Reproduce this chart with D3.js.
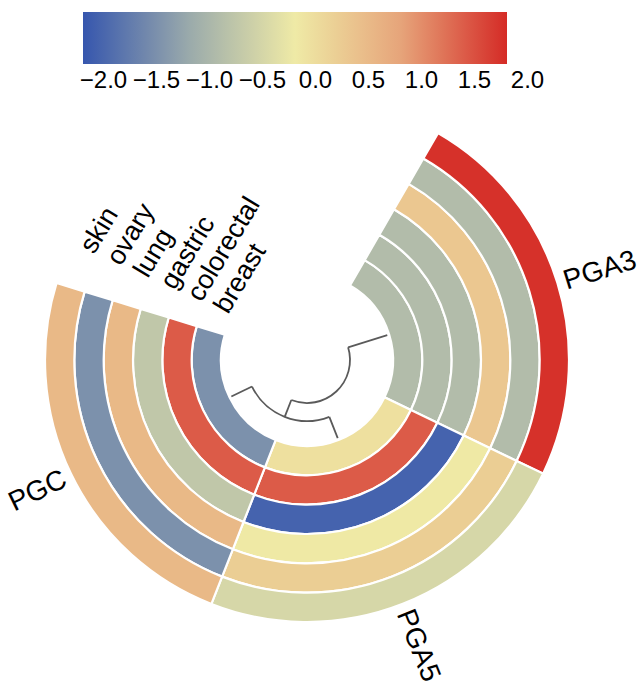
<!DOCTYPE html>
<html>
<head>
<meta charset="utf-8">
<script src="https://cdn.jsdelivr.net/npm/d3@7"></script>
<style>
  body { margin: 0; background: #fff; }
  text { font-family: "Liberation Sans", Arial, Helvetica, sans-serif; fill: #000; }
</style>
</head>
<body>
<svg id="svg" width="642" height="685"></svg>
<script>
// data
var sectors = ["PGA3", "PGA5", "PGC"];
var tracks  = ["breast", "colorectal", "gastric", "lung", "ovary", "skin"];
var PGA3 = [-0.72, -0.72, -0.72, 0.5, -0.72, 1.95];
var PGA5 = [0.15, 1.6, -1.85, 0.02, 0.4, -0.3];
var PGC  = [-1.3, 1.6, -0.55, 0.7, -1.3, 0.7];
var legendTicks = [-2, -1.5, -1, -0.5, 0, 0.5, 1, 1.5, 2];
// dendrogram merge heights
var dendro = {name: "root", height: 5, children: [
    {name: "PGA3", height: 0},
    {name: "n1", height: 2.8, children: [{name: "PGA5", height: 0}, {name: "PGC", height: 0}]}
]};

var values = [PGA3, PGA5, PGC];

var svg = d3.select("#svg"),
    defs = svg.append("defs");

var cx = 307, cy = 360,
    rIn = 86, rOut = 262,
    deg = Math.PI / 180,
    a0 = 30 * deg, a1 = 287.1 * deg;

var color = d3.scaleLinear().domain([-2, -1, 0, 1, 2])
    .range(["#3656ae", "#9aaaab", "#efeaa6", "#e6a47a", "#d52b26"])
    .clamp(true);

var angle = d3.scaleBand().domain(sectors).range([a0, a1]).padding(0);
var radius = d3.scaleBand().domain(tracks).range([rIn, rOut]).padding(0);

var g = svg.append("g").attr("transform", "translate(" + cx + "," + cy + ")");

// cells
var cells = [];
sectors.forEach((s, i) => tracks.forEach((t, j) => cells.push({s: s, t: t, v: values[i][j]})));
var arc = d3.arc()
    .innerRadius(d => radius(d.t))
    .outerRadius(d => radius(d.t) + radius.bandwidth())
    .startAngle(d => angle(d.s))
    .endAngle(d => angle(d.s) + angle.bandwidth());
g.selectAll(".cell").data(cells).enter().append("path")
    .attr("class", "cell")
    .attr("d", arc)
    .attr("fill", d => color(d.v))
    .attr("stroke", "#fff").attr("stroke-width", 2.2);

// track labels at end of last sector
var labRot = -59, labOff = 7 * deg;
g.selectAll(".tlab").data(tracks).enter().append("text")
    .attr("class", "tlab")
    .attr("transform", d => {
        var r = radius(d) + radius.bandwidth() / 2,
            t = a1 + labOff;
        return "translate(" + (r * Math.sin(t)) + "," + (-r * Math.cos(t)) + ") rotate(" + labRot + ")";
    })
    .attr("dx", 10)
    .attr("dominant-baseline", "central")
    .attr("font-size", 27)
    .text(d => d);

// sector labels, radial, readable
var rLab = 269;
g.selectAll(".slab").data(sectors).enter().append("text")
    .attr("class", "slab")
    .each(function(d) {
        var t = angle(d) + angle.bandwidth() / 2, td = t / deg,
            right = td < 180;
        d3.select(this)
            .attr("transform", "translate(" + (rLab * Math.sin(t)) + "," + (-rLab * Math.cos(t)) + ") rotate(" + (right ? td - 90 : td - 270) + ")")
            .attr("text-anchor", right ? "start" : "end");
    })
    .attr("dominant-baseline", "central")
    .attr("font-size", 28)
    .text(d => d);

// dendrogram
var root = d3.hierarchy(dendro);
var hr = d3.scaleLinear().domain([0, 5]).range([84, 43]);
root.eachAfter(n => {
    n.theta = n.children ? d3.mean(n.children, c => c.theta) : angle(n.data.name) + angle.bandwidth() / 2;
});
var dg = g.append("g").attr("fill", "none").attr("stroke", "#5a5a5a").attr("stroke-width", 1.8);
root.descendants().filter(n => n.children).forEach(n => {
    var r = hr(n.data.height),
        ts = n.children.map(c => c.theta),
        p = d3.path();
    p.arc(0, 0, r, d3.min(ts) - Math.PI / 2, d3.max(ts) - Math.PI / 2);
    dg.append("path").attr("d", p.toString());
    n.children.forEach(c => {
        var rc = hr(c.data.height);
        dg.append("line")
            .attr("x1", r * Math.sin(c.theta)).attr("y1", -r * Math.cos(c.theta))
            .attr("x2", rc * Math.sin(c.theta)).attr("y2", -rc * Math.cos(c.theta));
    });
});

// legend
var lx = d3.scaleLinear().domain([-2, 2]).range([83, 507]);
var grad = defs.append("linearGradient").attr("id", "lg");
grad.selectAll("stop").data(d3.range(0, 1.0001, 0.05)).enter().append("stop")
    .attr("offset", d => d)
    .attr("stop-color", d => color(-2 + 4 * d));
svg.append("rect")
    .attr("x", lx(-2)).attr("y", 12)
    .attr("width", lx(2) - lx(-2)).attr("height", 52)
    .attr("fill", "url(#lg)");
var ax = svg.append("g").attr("transform", "translate(20,69)")
    .call(d3.axisBottom(lx).tickValues(legendTicks).tickSize(0).tickPadding(0).tickFormat(d3.format(".1f")));
ax.select(".domain").remove();
ax.selectAll("text").attr("font-size", 24).attr("dy", "0.78em")
    .style("font-family", "'Liberation Sans', Arial, sans-serif").attr("fill", "#000");
</script>
</body>
</html>
